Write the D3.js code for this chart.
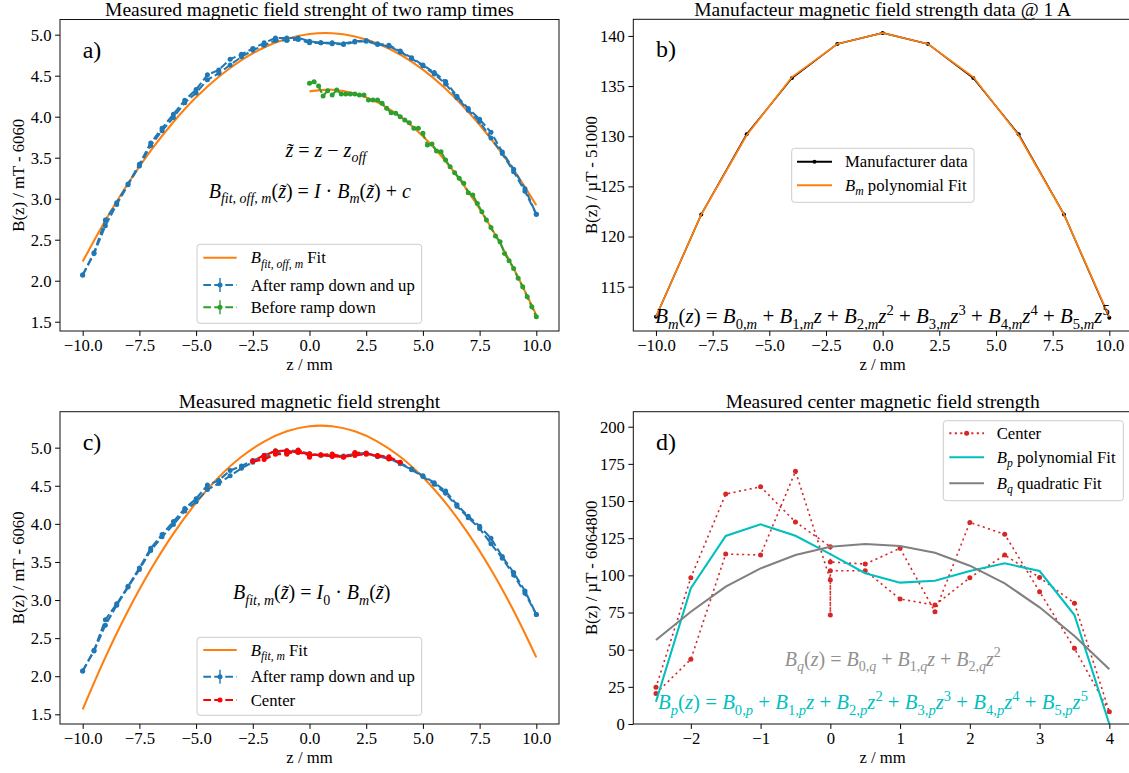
<!DOCTYPE html>
<html>
<head>
<meta charset="utf-8">
<script src="https://cdn.jsdelivr.net/npm/d3@7"></script>
<style>
  body { margin: 0; background: #fff; }
  svg text { font-family: "Liberation Serif", "Times New Roman", serif; white-space: pre; }
</style>
</head>
<body>
<svg id="fig" width="1129" height="773" font-family="Liberation Serif, serif"></svg>
<script>
// ---------- measured field, two ramp passes (mT - 6060) ----------
const rampZ = [-10,-9.5,-9,-8.5,-8,-7.5,-7,-6.5,-6,-5.5,-5,-4.5,-4,-3.5,-3,-2.5,-2,-1.5,-1,-0.5,
               0,0.5,1,1.5,2,2.5,3,3.5,4,4.5,5,5.5,6,6.5,7,7.5,8,8.5,9,9.5,10];
const rampForward = [2.07,2.34,2.74,2.95,3.18,3.42,3.68,3.86,4.03,4.20,4.33,4.51,4.57,4.70,4.76,4.83,4.90,4.96,4.96,4.96,
                     4.92,4.90,4.90,4.89,4.92,4.93,4.89,4.87,4.80,4.72,4.63,4.54,4.43,4.25,4.10,3.97,3.81,3.57,3.36,3.12,2.81];
const rampBackward = [2.07,2.33,2.67,2.93,3.17,3.40,3.65,3.83,3.99,4.17,4.29,4.45,4.53,4.63,4.73,4.81,4.87,4.93,4.93,4.94,
                      4.90,4.90,4.89,4.88,4.91,4.92,4.88,4.86,4.79,4.71,4.62,4.52,4.40,4.23,4.08,3.94,3.74,3.55,3.33,3.09,2.81];

// ---------- before ramp down (mT - 6060) ----------
const beforeZ = [0,0.2,0.4,0.6,0.8,1,1.2,1.4,1.6,1.8,2,2.2,2.4,2.6,2.8,3,3.2,3.4,3.6,3.8,4,4.2,4.4,4.6,4.8,5,
                 5.2,5.4,5.6,5.8,6,6.2,6.4,6.6,6.8,7,7.2,7.4,7.6,7.8,8,8.2,8.4,8.6,8.8,9,9.2,9.4,9.6,9.8,10];
const beforeB = [4.407,4.427,4.374,4.252,4.317,4.264,4.325,4.277,4.277,4.277,4.277,4.264,4.264,4.203,4.203,4.203,4.163,
                 4.102,4.049,4.041,4.00,3.96,3.927,3.858,3.858,3.797,3.655,3.667,3.581,3.573,3.472,3.39,3.317,3.248,
                 3.187,3.073,3.045,2.943,2.84,2.74,2.65,2.545,2.476,2.333,2.244,2.15,2.029,1.927,1.805,1.683,1.561];
const errB = 0.015, errZ = 0.05;

// ---------- fitted curves (mT - 6060) ----------
const fitZ = [-10,-9,-8,-7,-6,-5,-4,-3,-2,-1,0,1,2,3,4,5,6,7,8,9,10];
const fitOffAfter = [2.233,2.734,3.185,3.585,3.935,4.236,4.487,4.690,4.844,4.950,5.008,5.018,4.979,4.893,4.758,4.574,4.342,4.061,3.731,3.351,2.920];
const fitOffBeforeZ = [0,1,2,3,4,5,6,7,8,9,10];
const fitOffBefore = [4.309,4.329,4.284,4.174,4.000,3.761,3.457,3.087,2.651,2.149,1.580];
const fitScaled = [1.566,2.248,2.859,3.400,3.872,4.276,4.612,4.880,5.080,5.214,5.281,5.281,5.214,5.080,4.880,4.612,4.276,3.872,3.400,2.859,2.248];

// ---------- manufacturer data @ 1 A (µT - 51000) ----------
const manuZ = [-10,-8,-6,-4,-2,0,2,4,6,8,10];
const manuB = [112.0,122.2,130.2,135.8,139.2,140.3,139.2,135.8,130.2,122.2,111.9];
const manuFit = [112.0,122.2,130.1,135.9,139.2,140.3,139.2,135.9,130.1,122.2,112.0];

// ---------- center scan (µT - 6064800), in measurement order ----------
const centerZ = [-2.5,-2,-1.5,-1,-0.5,0,0,0,0.5,1,1.5,2,2.5,3,3.5,4,
                 3.5,3,2.5,2,1.5,1,0.5,0,0,-0.5,-1,-1.5,-2,-2.5];
const centerB = [20.6,43.5,114.3,113.7,170.0,96.9,73.3,103.1,103.1,84.1,80.0,98.4,113.7,98.6,81.2,8.3,
                 50.9,89.0,127.6,135.6,75.5,118.2,107.6,109.0,119.3,135.9,159.6,154.7,98.4,24.7];
const centerOffsetMilli = 4.8;   // 6064800 µT - 6060 mT, expressed in mT

const polyZ = [-2.5,-2,-1.5,-1,-0.5,0,0.5,1,1.5,2,2.5,3,3.5,4];
const polyFit = [15.0,91.3,126.5,134.3,126.6,114.3,101.4,95.1,96.4,102.9,108.1,102.9,73.3,0];
const quadFit = [56.5,75.5,92.4,104.7,113.7,119.3,121.1,119.7,115.2,106.5,94.6,78.5,59.2,36.8];

// ---------- tick values ----------
const zTicksWide = [-10,-7.5,-5,-2.5,0,2.5,5,7.5,10];
const bTicksMilli = [1.5,2,2.5,3,3.5,4,4.5,5];
const bTicksManu = [115,120,125,130,135,140];
const zTicksCenter = [-2,-1,0,1,2,3,4];
const bTicksCenter = [0,25,50,75,100,125,150,175,200];

// ---------- colours ----------
const C_BLUE = "#1f77b4", C_ORANGE = "#ff7f0e", C_GREEN = "#2ca02c",
      C_RED = "#ff0000", C_TRED = "#d62728", C_CYAN = "#00bfbf", C_GRAY = "#808080";

const FONT = 16.7;
const SERIF = "Liberation Serif, Times New Roman, serif";
const svg = d3.select("#fig");

// Text with italic / subscript / superscript runs
function mathText(g, x, y, parts, size, color, anchor) {
  const t = g.append("text").attr("x", x).attr("y", y).attr("font-family", SERIF)
    .attr("font-size", size).attr("fill", color).attr("text-anchor", anchor || "start");
  let shift = 0;
  parts.forEach(([s, k]) => {
    let target = 0, fs = size, style = "italic";
    if (k === "r") style = "normal";
    if (k === "sb" || k === "sbr") { target = size * 0.26; fs = size * 0.7; style = k === "sb" ? "italic" : "normal"; }
    if (k === "sp") { target = -size * 0.42; fs = size * 0.7; style = "normal"; }
    t.append("tspan").attr("dy", (target - shift).toFixed(2)).attr("font-size", fs)
      .attr("font-style", style).text(s);
    shift = target;
  });
  return t;
}

function panel(cfg) {
  const x = d3.scaleLinear().domain(cfg.xdom).range([cfg.left, cfg.right]);
  const y = d3.scaleLinear().domain(cfg.ydom).range([cfg.bottom, cfg.top]);
  const g = svg.append("g");
  g.append("clipPath").attr("id", "clip-" + cfg.name).append("rect")
    .attr("x", cfg.left).attr("y", cfg.top)
    .attr("width", cfg.right - cfg.left).attr("height", cfg.bottom - cfg.top);
  const plot = g.append("g").attr("clip-path", `url(#clip-${cfg.name})`);

  const styleAxis = s => {
    s.select(".domain").remove();
    s.attr("font-size", FONT).attr("font-family", SERIF);
    s.selectAll(".tick line").attr("stroke", "#000").attr("stroke-width", 1);
    s.selectAll(".tick text").attr("fill", "#000").attr("font-family", SERIF);
  };
  g.append("g").attr("transform", `translate(0,${cfg.bottom})`)
    .call(d3.axisBottom(x).tickValues(cfg.xticks).tickFormat(d3.format(cfg.xfmt)).tickSize(4.9).tickPadding(3.5))
    .call(styleAxis);
  g.append("g").attr("transform", `translate(${cfg.left},0)`)
    .call(d3.axisLeft(y).tickValues(cfg.yticks).tickFormat(d3.format(cfg.yfmt)).tickSize(4.9).tickPadding(3.5))
    .call(styleAxis);

  const cx = (cfg.left + cfg.right) / 2, cy = (cfg.top + cfg.bottom) / 2;
  g.append("text").attr("x", cx).attr("y", cfg.top - 3.5).attr("text-anchor", "middle")
    .attr("font-family", SERIF).attr("font-size", 19.5).attr("fill", "#000").text(cfg.title);
  g.append("text").attr("x", cx).attr("y", cfg.bottom + 39).attr("text-anchor", "middle")
    .attr("font-family", SERIF).attr("font-size", FONT).attr("fill", "#000").text("z / mm");
  g.append("text").attr("transform", `translate(${cfg.left - 36},${cy}) rotate(-90)`)
    .attr("font-family", SERIF).attr("text-anchor", "middle").attr("font-size", FONT).attr("fill", "#000").text(cfg.ylabel);
  g.append("text").attr("x", cfg.left + 22.7).attr("y", cfg.top + 38).attr("font-size", 24)
    .attr("font-family", SERIF).attr("fill", "#000").text(cfg.letter);

  return { g, plot, x, y, frame: () => g.append("rect").attr("x", cfg.left).attr("y", cfg.top)
    .attr("width", cfg.right - cfg.left).attr("height", cfg.bottom - cfg.top)
    .attr("fill", "none").attr("stroke", "#111").attr("stroke-width", 1) };
}

const dashed = "7.7,3.3", dotted = "2.1,3.4";

function drawLine(p, zs, vs, color, opts) {
  opts = opts || {};
  const pts = d3.zip(zs, vs);
  const line = d3.line().x(d => p.x(d[0])).y(d => p.y(d[1]));
  if (opts.curve) line.curve(opts.curve);
  p.plot.append("path").datum(pts).attr("d", line).attr("fill", "none")
    .attr("stroke", color).attr("stroke-width", opts.width || 2.08)
    .attr("stroke-dasharray", opts.dash || null);
  if (opts.err) {
    const eb = p.plot.append("g").attr("stroke", color).attr("stroke-width", 1.4);
    pts.forEach(d => {
      eb.append("line").attr("x1", p.x(d[0])).attr("x2", p.x(d[0]))
        .attr("y1", p.y(d[1] - opts.err[1])).attr("y2", p.y(d[1] + opts.err[1]));
      eb.append("line").attr("x1", p.x(d[0] - opts.err[0])).attr("x2", p.x(d[0] + opts.err[0]))
        .attr("y1", p.y(d[1])).attr("y2", p.y(d[1]));
    });
  }
  if (opts.marker) {
    p.plot.append("g").attr("fill", color).selectAll("circle").data(pts).join("circle")
      .attr("cx", d => p.x(d[0])).attr("cy", d => p.y(d[1])).attr("r", opts.marker);
  }
}

function legend(g, box, entries) {
  g.append("rect").attr("x", box[0]).attr("y", box[1])
    .attr("width", box[2] - box[0]).attr("height", box[3] - box[1]).attr("rx", 3)
    .attr("fill", "#fff").attr("fill-opacity", 0.8).attr("stroke", "#cccccc").attr("stroke-width", 1);
  entries.forEach(e => {
    const [h0, h1] = e.hx, yc = e.y, mid = (h0 + h1) / 2;
    g.append("line").attr("x1", h0).attr("x2", h1).attr("y1", yc).attr("y2", yc)
      .attr("stroke", e.color).attr("stroke-width", 2.08).attr("stroke-dasharray", e.dash || null);
    if (e.errbar) {
      g.append("line").attr("x1", mid).attr("x2", mid).attr("y1", yc - 7).attr("y2", yc + 7)
        .attr("stroke", e.color).attr("stroke-width", 1.4);
    }
    if (e.marker) g.append("circle").attr("cx", mid).attr("cy", yc).attr("r", e.marker).attr("fill", e.color);
    mathText(g, e.tx, yc + 5.5, e.parts, FONT, "#000", "start");
  });
}

const curve = d3.curveCatmullRom.alpha(0.5);

// ================= a) =================
const pa = panel({ name: "a", left: 60, right: 559, top: 19.5, bottom: 331,
  xdom: [-11, 11], ydom: [1.387, 5.185], xticks: zTicksWide, yticks: bTicksMilli, xfmt: ".1f", yfmt: ".1f",
  title: "Measured magnetic field strenght of two ramp times", ylabel: "B(z) / mT - 6060", letter: "a)" });
drawLine(pa, fitZ, fitOffAfter, C_ORANGE, { curve });
drawLine(pa, fitOffBeforeZ, fitOffBefore, C_ORANGE, { curve });
drawLine(pa, rampZ, rampForward, C_BLUE, { dash: dashed, marker: 2.5, err: [errZ, errB] });
drawLine(pa, rampZ, rampBackward, C_BLUE, { dash: dashed, marker: 2.5, err: [errZ, errB] });
drawLine(pa, beforeZ, beforeB, C_GREEN, { dash: dashed, marker: 2.5, err: [errZ, errB] });
pa.frame();
mathText(pa.g, 325.8, 157, [["z\u0303", "i"], [" = ", "r"], ["z", "i"], [" \u2212 ", "r"], ["z", "i"], ["off", "sb"]], 20, "#000", "middle");
mathText(pa.g, 309.8, 198, [["B", "i"], ["fit, off, m", "sb"], ["(", "r"], ["z\u0303", "i"], [")", "r"], [" = ", "r"],
  ["I", "i"], [" \u00b7 ", "r"], ["B", "i"], ["m", "sb"], ["(", "r"], ["z\u0303", "i"], [")", "r"], [" + ", "r"], ["c", "i"]], 20, "#000", "middle");
legend(pa.g, [197, 244.3, 421.7, 323.3], [
  { hx: [203.3, 236.7], y: 257.7, color: C_ORANGE, tx: 250.7, parts: [["B", "i"], ["fit, off, m", "sb"], [" Fit", "r"]] },
  { hx: [203.3, 236.7], y: 285, color: C_BLUE, dash: dashed, errbar: true, marker: 2.5, tx: 250.7, parts: [["After ramp down and up", "r"]] },
  { hx: [203.3, 236.7], y: 307.3, color: C_GREEN, dash: dashed, errbar: true, marker: 2.5, tx: 250.7, parts: [["Before ramp down", "r"]] }
]);

// ================= b) =================
const pb = panel({ name: "b", left: 633.3, right: 1132, top: 19.3, bottom: 331,
  xdom: [-11, 11], ydom: [110.58, 141.66], xticks: zTicksWide, yticks: bTicksManu, xfmt: ".1f", yfmt: "d",
  title: "Manufacteur magnetic field strength data @ 1 A", ylabel: "B(z) / \u00b5T - 51000", letter: "b)" });
drawLine(pb, manuZ, manuB, "#000", { width: 1.6, marker: 2 });
drawLine(pb, manuZ, manuFit, C_ORANGE, { width: 1.8 });
pb.frame();
mathText(pb.g, 882.5, 323.3, [["B", "i"], ["m", "sb"], ["(", "r"], ["z", "i"], [")", "r"], [" = ", "r"],
  ["B", "i"], ["0,", "sbr"], ["m", "sb"], [" + ", "r"],
  ["B", "i"], ["1,", "sbr"], ["m", "sb"], ["z", "i"], [" + ", "r"],
  ["B", "i"], ["2,", "sbr"], ["m", "sb"], ["z", "i"], ["2", "sp"], [" + ", "r"],
  ["B", "i"], ["3,", "sbr"], ["m", "sb"], ["z", "i"], ["3", "sp"], [" + ", "r"],
  ["B", "i"], ["4,", "sbr"], ["m", "sb"], ["z", "i"], ["4", "sp"], [" + ", "r"],
  ["B", "i"], ["5,", "sbr"], ["m", "sb"], ["z", "i"], ["5", "sp"]], 20.9, "#000", "middle");
legend(pb.g, [791.7, 148.3, 974, 202.3], [
  { hx: [797, 832], y: 161.7, color: "#000", marker: 2, tx: 845, parts: [["Manufacturer data", "r"]] },
  { hx: [797, 832], y: 185.3, color: C_ORANGE, tx: 845, parts: [["B", "i"], ["m", "sb"], [" polynomial Fit", "r"]] }
]);

// ================= c) =================
const pc = panel({ name: "c", left: 60, right: 559, top: 411.7, bottom: 724,
  xdom: [-11, 11], ydom: [1.373, 5.472], xticks: zTicksWide, yticks: bTicksMilli, xfmt: ".1f", yfmt: ".1f",
  title: "Measured magnetic field strenght", ylabel: "B(z) / mT - 6060", letter: "c)" });
drawLine(pc, fitZ, fitScaled, C_ORANGE, { curve });
drawLine(pc, rampZ, rampForward, C_BLUE, { dash: dashed, marker: 2.5, err: [errZ, errB] });
drawLine(pc, rampZ, rampBackward, C_BLUE, { dash: dashed, marker: 2.5, err: [errZ, errB] });
drawLine(pc, centerZ, centerB.map(v => centerOffsetMilli + v / 1000), C_RED, { dash: dashed, marker: 2.5 });
pc.frame();
mathText(pc.g, 311.7, 599.3, [["B", "i"], ["fit, m", "sb"], ["(", "r"], ["z\u0303", "i"], [")", "r"], [" = ", "r"],
  ["I", "i"], ["0", "sbr"], [" \u00b7 ", "r"], ["B", "i"], ["m", "sb"], ["(", "r"], ["z\u0303", "i"], [")", "r"]], 20, "#000", "middle");
legend(pc.g, [197, 637.3, 421.7, 715.3], [
  { hx: [203.3, 236.7], y: 650, color: C_ORANGE, tx: 250.7, parts: [["B", "i"], ["fit, m", "sb"], [" Fit", "r"]] },
  { hx: [203.3, 236.7], y: 676.7, color: C_BLUE, dash: dashed, errbar: true, marker: 2.5, tx: 250.7, parts: [["After ramp down and up", "r"]] },
  { hx: [203.3, 236.7], y: 700, color: C_RED, dash: dashed, marker: 2.5, tx: 250.7, parts: [["Center", "r"]] }
]);

// ================= d) =================
const pd = panel({ name: "d", left: 633.3, right: 1132, top: 411.7, bottom: 724,
  xdom: [-2.825, 4.325], ydom: [0, 210.1], xticks: zTicksCenter, yticks: bTicksCenter, xfmt: "d", yfmt: "d",
  title: "Measured center magnetic field strength", ylabel: "B(z) / \u00b5T - 6064800", letter: "d)" });
drawLine(pd, centerZ, centerB, C_TRED, { dash: dotted, width: 1.6, marker: 2.5 });
drawLine(pd, polyZ, polyFit, C_CYAN);
drawLine(pd, polyZ, quadFit, C_GRAY);
pd.frame();
mathText(pd.g, 892.8, 665.7, [["B", "i"], ["q", "sb"], ["(", "r"], ["z", "i"], [")", "r"], [" = ", "r"],
  ["B", "i"], ["0,", "sbr"], ["q", "sb"], [" + ", "r"], ["B", "i"], ["1,", "sbr"], ["q", "sb"], ["z", "i"], [" + ", "r"],
  ["B", "i"], ["2,", "sbr"], ["q", "sb"], ["z", "i"], ["2", "sp"]], 20, "#909090", "middle");
mathText(pd.g, 873, 709.3, [["B", "i"], ["p", "sb"], ["(", "r"], ["z", "i"], [")", "r"], [" = ", "r"],
  ["B", "i"], ["0,", "sbr"], ["p", "sb"], [" + ", "r"],
  ["B", "i"], ["1,", "sbr"], ["p", "sb"], ["z", "i"], [" + ", "r"],
  ["B", "i"], ["2,", "sbr"], ["p", "sb"], ["z", "i"], ["2", "sp"], [" + ", "r"],
  ["B", "i"], ["3,", "sbr"], ["p", "sb"], ["z", "i"], ["3", "sp"], [" + ", "r"],
  ["B", "i"], ["4,", "sbr"], ["p", "sb"], ["z", "i"], ["4", "sp"], [" + ", "r"],
  ["B", "i"], ["5,", "sbr"], ["p", "sb"], ["z", "i"], ["5", "sp"]], 20.8, C_CYAN, "middle");
legend(pd.g, [943.3, 420.7, 1123.3, 500.7], [
  { hx: [949.3, 984], y: 433.3, color: C_TRED, dash: dotted, marker: 2.5, tx: 996.7, parts: [["Center", "r"]] },
  { hx: [949.3, 984], y: 457.3, color: C_CYAN, tx: 996.7, parts: [["B", "i"], ["p", "sb"], [" polynomial Fit", "r"]] },
  { hx: [949.3, 984], y: 483.3, color: C_GRAY, tx: 996.7, parts: [["B", "i"], ["q", "sb"], [" quadratic Fit", "r"]] }
]);
</script>
</body>
</html>
